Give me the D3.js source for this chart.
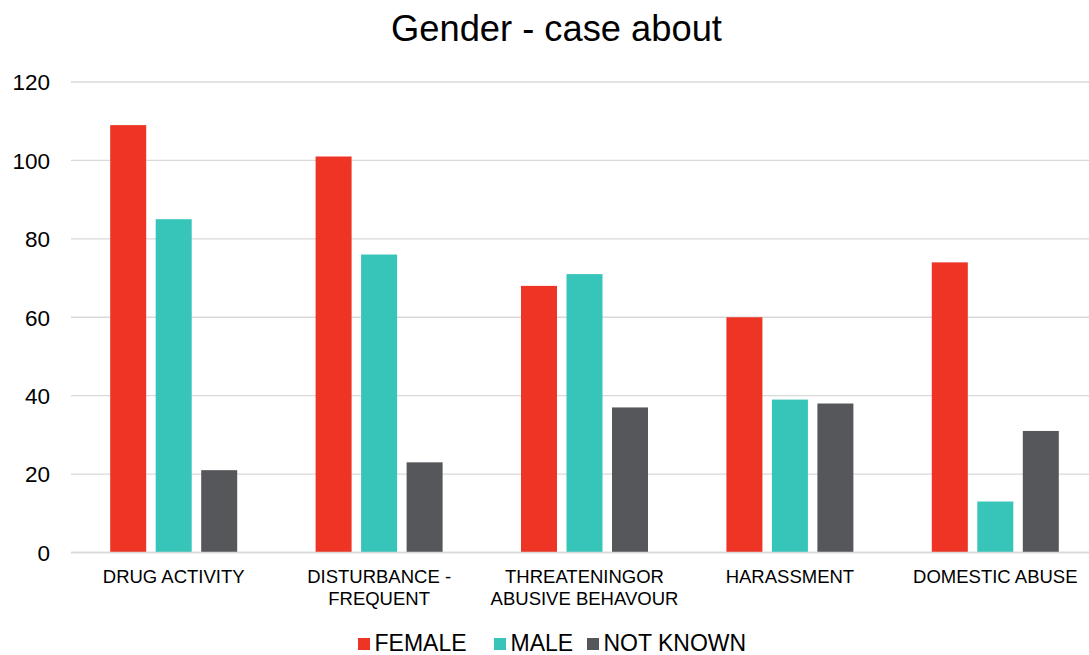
<!DOCTYPE html>
<html>
<head>
<meta charset="utf-8">
<script src="https://cdn.jsdelivr.net/npm/d3@7"></script>
<style>
  html, body { margin: 0; padding: 0; background: #fff; }
  svg { display: block; font-family: "Liberation Sans", Arial, sans-serif; }
</style>
</head>
<body>
<svg id="chart" width="1089" height="655"></svg>
<script>
// Case categories and counts by gender
const categories = [
  ["DRUG ACTIVITY"],
  ["DISTURBANCE -", "FREQUENT"],
  ["THREATENINGOR", "ABUSIVE BEHAVOUR"],
  ["HARASSMENT"],
  ["DOMESTIC ABUSE"]
];
const seriesNames = ["FEMALE", "MALE", "NOT KNOWN"];
const female = [109, 101, 68, 60, 74];
const male = [85, 76, 71, 39, 13];
const notKnown = [21, 23, 37, 38, 31];
const yTicks = [0, 20, 40, 60, 80, 100, 120];
const colors = ["#EE3424", "#36C5B8", "#55575B"];

const seriesValues = [female, male, notKnown];
const svg = d3.select("#chart");

const plot = { left: 71, right: 1098, top: 82, bottom: 552.5 };

const x = d3.scaleBand()
  .domain(d3.range(categories.length))
  .range([plot.left, plot.right]);

const y = d3.scaleLinear()
  .domain([0, 120])
  .range([plot.bottom, plot.top]);

// Gridlines
svg.append("g")
  .selectAll("line")
  .data(yTicks)
  .join("line")
  .attr("x1", plot.left)
  .attr("x2", plot.right)
  .attr("y1", d => y(d))
  .attr("y2", d => y(d))
  .attr("stroke", "#d9d9d9")
  .attr("stroke-width", 1.3);

// Y axis labels
const yAxis = d3.axisLeft(y).tickValues(yTicks).tickSize(0).tickPadding(0);
svg.append("g")
  .attr("transform", `translate(50,0)`)
  .call(yAxis)
  .call(g => g.select(".domain").remove())
  .selectAll("text")
  .attr("font-size", 22.5)
  .attr("fill", "#000")
  .attr("font-family", "Liberation Sans, Arial, sans-serif")
  .attr("dy", "0.35em");

// Bars
const barW = 36, step = 45.5;
seriesValues.forEach((vals, s) => {
  svg.append("g")
    .selectAll("rect")
    .data(vals)
    .join("rect")
    .attr("x", (d, i) => x(i) + x.bandwidth() / 2 + (s - 1) * step - barW / 2)
    .attr("width", barW)
    .attr("y", d => y(d))
    .attr("height", d => y(0) - y(d))
    .attr("fill", colors[s]);
});

// Baseline
svg.append("line")
  .attr("x1", plot.left).attr("x2", plot.right)
  .attr("y1", y(0)).attr("y2", y(0))
  .attr("stroke", "#d9d9d9").attr("stroke-width", 1.5);

// Category labels
const catG = svg.append("g");
categories.forEach((lines, i) => {
  const cx = x(i) + x.bandwidth() / 2;
  const t = catG.append("text")
    .attr("x", cx)
    .attr("y", 583)
    .attr("text-anchor", "middle")
    .attr("font-size", 18.5)
    .attr("fill", "#000");
  lines.forEach((ln, k) => {
    t.append("tspan")
      .attr("x", cx)
      .attr("dy", k === 0 ? 0 : 22)
      .text(ln);
  });
});

// Title
svg.append("text")
  .attr("x", 556.5)
  .attr("y", 41)
  .attr("text-anchor", "middle")
  .attr("font-size", 36.3)
  .attr("fill", "#000")
  .text("Gender - case about");

// Legend
const legendX = [358, 494, 587];
const leg = svg.append("g");
seriesNames.forEach((name, s) => {
  leg.append("rect")
    .attr("x", legendX[s])
    .attr("y", 638)
    .attr("width", 12)
    .attr("height", 12)
    .attr("fill", colors[s]);
  leg.append("text")
    .attr("x", legendX[s] + 16.5)
    .attr("y", 650.5)
    .attr("font-size", 23)
    .attr("fill", "#000")
    .text(name);
});
</script>
</body>
</html>
